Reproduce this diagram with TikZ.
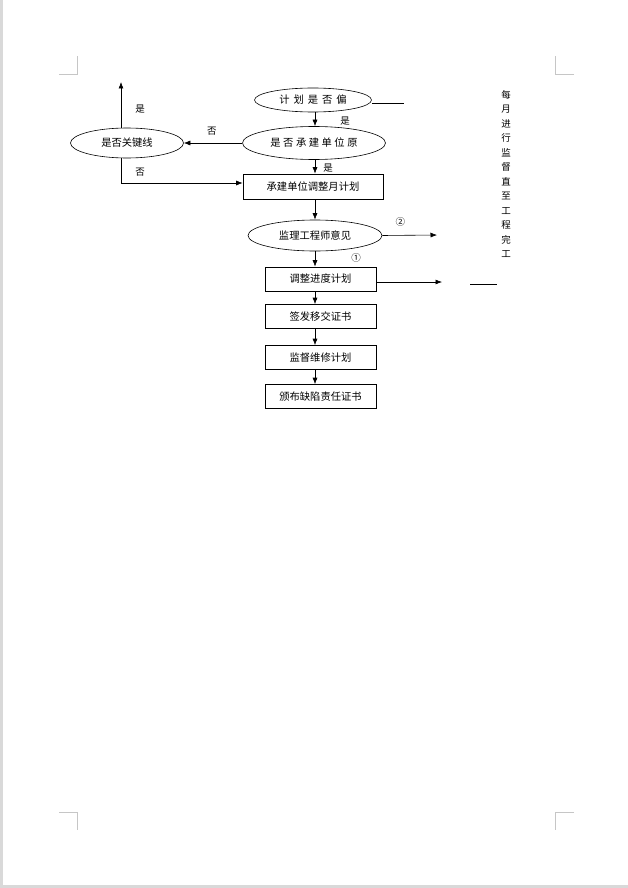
\documentclass[tikz,border=0pt]{standalone}
\usepackage{fontspec}
\setmainfont{Noto Sans CJK SC}
\usetikzlibrary{shapes, arrows.meta}
\tikzset{judge/.style n args={2}{
    draw, ellipse, inner sep=0pt,
    minimum width=#1, minimum height=#2
  },
  stepbox/.style={draw, rectangle, inner sep=0pt,
    minimum width=#1, minimum height=24
  },
  flow/.style={-{Latex[length=6.5pt, width=5pt]}, line width=0.6pt},
  tag/.style={font=\fontsize{9.5}{11}\selectfont, inner sep=0pt},
  mark line/.style={draw=gray!45, line width=0.8pt}
}
\newcommand{\gap}{\hspace{4pt}}

\begin{document}
\begin{tikzpicture}[x=1pt, y=-1pt, font=\fontsize{10.3}{12}\selectfont, line width=0.6pt]
      \useasboundingbox (0,0) rectangle (628,888);
      \fill[gray!30] (0,0) rectangle (3,888);
      \fill[gray!30] (0,885) rectangle (628,888);
      % page corners
      \draw[mark line] (59,74) -- (77,74) -- (77,56);
      \draw[mark line] (574,74) -- (555,74) -- (555,56);
      \draw[mark line] (59,812) -- (77,812) -- (77,830);
      \draw[mark line] (574,812) -- (555,812) -- (555,830);

      \node[judge={117}{24}] (deviate) at (313,100) {计\gap 划\gap 是\gap 否\gap 偏};
      \node[judge={143}{33}] (reason) at (314,143) {是\hspace{2.5pt}否\hspace{2.5pt}承\hspace{2.5pt}建\hspace{2.5pt}单\hspace{2.5pt}位\hspace{2.5pt}原};
      \node[judge={113}{30}] (keyline) at (127,143) {是否关键线};
      \node[stepbox=140, minimum height=25] (adjust) at (313,186.5) {承建单位调整月计划};
      \node[judge={134}{31}] (opinion) at (315,235.5) {监理工程师意见};
      \node[stepbox=111] (progress) at (320.5,279) {调整进度计划};
      \node[stepbox=111] (handover) at (320.5,316.5) {签发移交证书};
      \node[stepbox=111] (repair) at (320.5,357.5) {监督维修计划};
      \node[stepbox=111] (defect) at (320.5,396.5) {颁布缺陷责任证书};
      \node[align=center, font=\fontsize{9.5}{14.5}\selectfont] (monthly) at (506,174)
        {每\\月\\进\\行\\监\\督\\直\\至\\工\\程\\完\\工};

      \coordinate (col) at (315,0);
      \coordinate (up) at (121,82);
      \coordinate (turn) at (121,183);
      \coordinate (tail) at (404,103);
      \coordinate (out2) at (437,235);
      \coordinate (out1) at (442,282);
      \coordinate (dash a) at (470,284);
      \coordinate (dash b) at (497,284);

      \draw (deviate.east |- tail) -- (tail);
      \draw[flow] (deviate.south -| col) -- (reason.north -| col) node[tag, pos=.6, xshift=30pt]{是};
      \draw[flow] (reason.west) -- (keyline.east) node[tag, pos=.52, yshift=12pt]{否};
      \draw[flow] (keyline.north -| up) -- (up) node[tag, pos=.4, xshift=19pt]{是};
      \draw[flow] (keyline.south -| turn) -- (turn) -- (turn -| adjust.west);
      \node[tag] at (140,172) {否};
      \draw[flow] (reason.south -| col) -- (adjust.north -| col) node[tag, pos=.6, xshift=13pt]{是};
      \draw[flow] (adjust.south -| col) -- (opinion.north -| col);
      \draw[flow] (opinion.east) -- (out2) node[tag, pos=.33, yshift=13pt]{②};
      \draw[flow] (opinion.south -| col) -- (progress.north -| col) node[tag, pos=.4, xshift=41pt]{①};
      \draw[flow] (progress.east |- out1) -- (out1);
      \draw (dash a) -- (dash b);
      \draw[flow] (progress.south -| col) -- (handover.north -| col);
      \draw[flow] (handover.south -| col) -- (repair.north -| col);
      \draw[flow] (repair.south -| col) -- (defect.north -| col);
    \end{tikzpicture}
\end{document}
